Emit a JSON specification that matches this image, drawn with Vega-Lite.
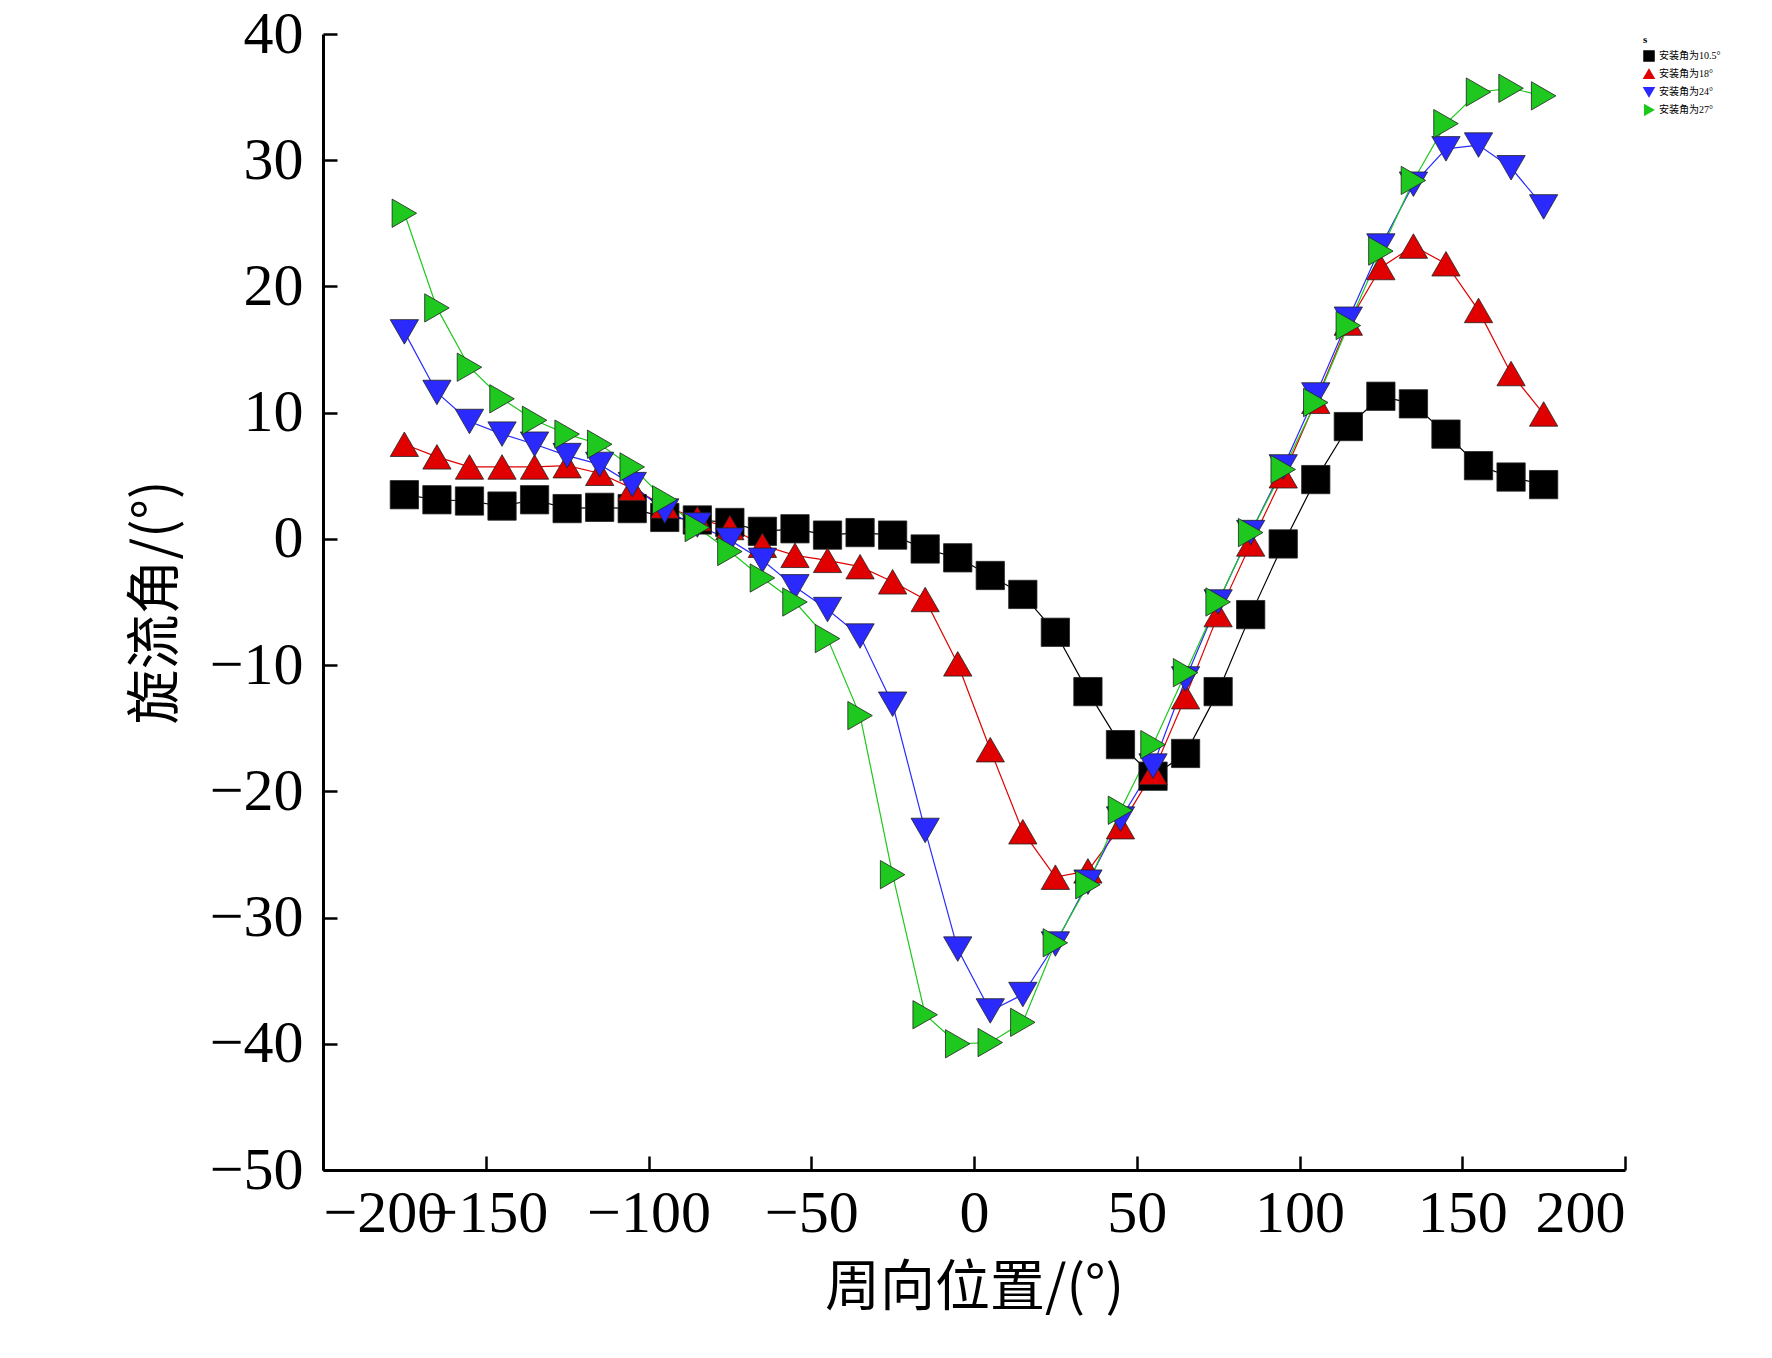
{
  "$schema": "https://vega.github.io/schema/vega-lite/v6.json",
  "autosize": "none",
  "width": 1302,
  "height": 1136,
  "padding": {"left": 323, "top": 34, "right": 147, "bottom": 188},
  "background": "white",
  "config": {
    "font": "Liberation Serif, Noto Sans CJK SC",
    "view": {"stroke": null},
    "axis": {"domainColor": "black", "domainWidth": 3, "tickColor": "black", "tickWidth": 2.5, "tickSize": -14, "grid": false, "labelFontSize": 60, "labelColor": "black", "titleFontSize": 55, "titleColor": "black", "titleFontWeight": "normal", "labelFont": "Liberation Serif", "titleFont": "Noto Sans CJK SC", "labelOverlap": false}
  },
  "data": {"values": [
    {"x":-175,"a":3.5,"b":7.5,"c":16.4,"d":25.8},
    {"x":-165,"a":3.1,"b":6.5,"c":11.6,"d":18.3},
    {"x":-155,"a":3.0,"b":5.7,"c":9.3,"d":13.6},
    {"x":-145,"a":2.6,"b":5.7,"c":8.3,"d":11.1},
    {"x":-135,"a":3.1,"b":5.7,"c":7.5,"d":9.4},
    {"x":-125,"a":2.4,"b":5.8,"c":6.6,"d":8.3},
    {"x":-115,"a":2.5,"b":5.2,"c":5.9,"d":7.5},
    {"x":-105,"a":2.4,"b":4.0,"c":4.3,"d":5.7},
    {"x":-95,"a":1.7,"b":2.6,"c":2.2,"d":3.1},
    {"x":-85,"a":1.5,"b":1.6,"c":1.1,"d":0.9},
    {"x":-75,"a":1.3,"b":0.9,"c":-0.1,"d":-1.0},
    {"x":-65,"a":0.6,"b":-0.5,"c":-1.7,"d":-3.1},
    {"x":-55,"a":0.8,"b":-1.3,"c":-3.8,"d":-5.0},
    {"x":-45,"a":0.3,"b":-1.7,"c":-5.6,"d":-7.9},
    {"x":-35,"a":0.5,"b":-2.2,"c":-7.7,"d":-14.0},
    {"x":-25,"a":0.3,"b":-3.4,"c":-13.1,"d":-26.6},
    {"x":-15,"a":-0.8,"b":-4.8,"c":-23.1,"d":-37.7},
    {"x":-5,"a":-1.5,"b":-9.9,"c":-32.5,"d":-40.0},
    {"x":5,"a":-2.9,"b":-16.7,"c":-37.4,"d":-39.9},
    {"x":15,"a":-4.4,"b":-23.2,"c":-36.1,"d":-38.3},
    {"x":25,"a":-7.4,"b":-26.8,"c":-32.1,"d":-32.0},
    {"x":35,"a":-12.1,"b":-26.3,"c":-27.2,"d":-27.4},
    {"x":45,"a":-16.3,"b":-22.8,"c":-22.2,"d":-21.5},
    {"x":55,"a":-18.8,"b":-18.5,"c":-18.0,"d":-16.3},
    {"x":65,"a":-17.0,"b":-12.5,"c":-11.1,"d":-10.6},
    {"x":75,"a":-12.1,"b":-6.0,"c":-5.0,"d":-5.0},
    {"x":85,"a":-6.0,"b":-0.4,"c":0.5,"d":0.5},
    {"x":95,"a":-0.4,"b":5.0,"c":5.7,"d":5.5},
    {"x":105,"a":4.7,"b":10.9,"c":11.4,"d":10.8},
    {"x":115,"a":8.9,"b":17.1,"c":17.4,"d":16.9},
    {"x":125,"a":11.3,"b":21.5,"c":23.2,"d":22.8},
    {"x":135,"a":10.7,"b":23.2,"c":28.1,"d":28.4},
    {"x":145,"a":8.3,"b":21.8,"c":30.9,"d":32.9},
    {"x":155,"a":5.8,"b":18.1,"c":31.2,"d":35.4},
    {"x":165,"a":4.9,"b":13.1,"c":29.4,"d":35.7},
    {"x":175,"a":4.3,"b":9.9,"c":26.3,"d":35.1}
  ]},
  "transform": [
    {"fold": ["a", "b", "c", "d"], "as": ["k", "y"]},
    {"calculate": "{'a':'安装角为10.5°','b':'安装角为18°','c':'安装角为24°','d':'安装角为27°'}[datum.k]", "as": "s"}
  ],
  "encoding": {
    "x": {"field": "x", "type": "quantitative", "scale": {"domain": [-200, 200], "nice": false}, "axis": {"values": [-200, -150, -100, -50, 0, 50, 100, 150, 200], "title": "周向位置/(°)", "titlePadding": 18, "labelPadding": 28, "labelExpr": "replace(datum.label, '-', '−')"}},
    "y": {"field": "y", "type": "quantitative", "scale": {"domain": [-50, 40], "nice": false}, "axis": {"values": [-50, -40, -30, -20, -10, 0, 10, 20, 30, 40], "title": "旋流角/(°)", "titlePadding": 25, "labelPadding": 34, "labelExpr": "replace(datum.label, '-', '−')"}},
    "color": {"field": "s", "type": "nominal", "scale": {"domain": ["安装角为10.5°", "安装角为18°", "安装角为24°", "安装角为27°"], "range": ["#000000", "#e00000", "#2a2aff", "#1ec81e"]}},
    "detail": {"field": "s"}
  },
  "layer": [
    {"mark": {"type": "line", "strokeWidth": 1.2}},
    {"mark": {"type": "point", "filled": true, "size": 800, "opacity": 1, "stroke": "#222", "strokeWidth": 0.8},
     "encoding": {"shape": {"field": "s", "type": "nominal", "scale": {"domain": ["安装角为10.5°", "安装角为18°", "安装角为24°", "安装角为27°"], "range": ["square", "triangle-up", "triangle-down", "triangle-right"]}}}}
  ],
  "resolve": {"legend": {"color": "shared", "shape": "shared"}},
  "config2": null
}
